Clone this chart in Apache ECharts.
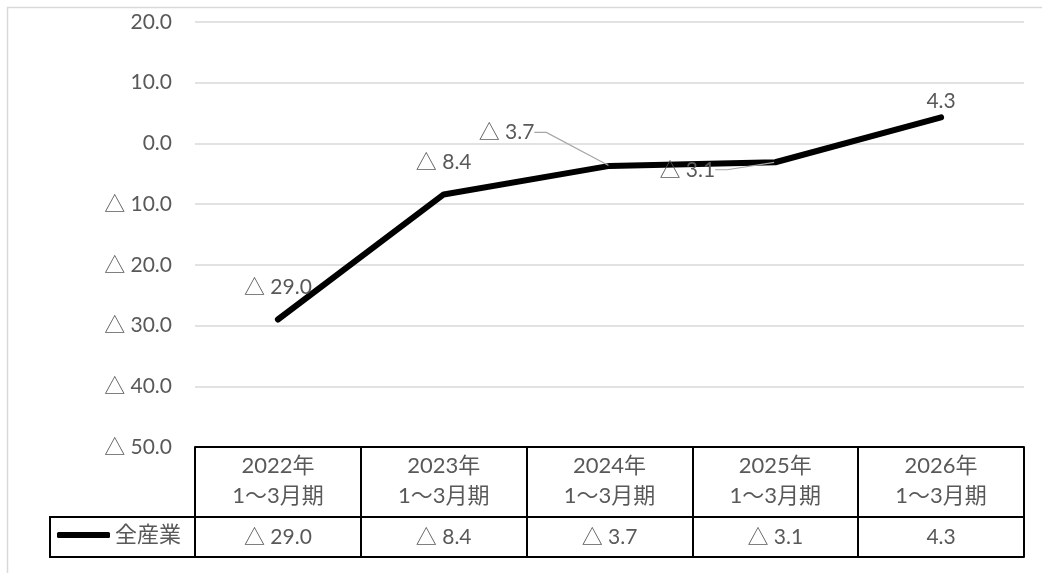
<!DOCTYPE html>
<html>
<head>
<meta charset="utf-8">
<script src="https://cdn.jsdelivr.net/npm/echarts@6/dist/echarts.min.js"></script>
<style>
html,body{margin:0;padding:0;background:#fff;}
#chart{width:1042px;height:573px;}
</style>
</head>
<body>
<div id="chart"></div>
<script>
// ---- data ----
const categories = ['2022年\n1〜3月期', '2023年\n1〜3月期', '2024年\n1〜3月期', '2025年\n1〜3月期', '2026年\n1〜3月期'];
const seriesName = '全産業';
const values = [-29.0, -8.4, -3.7, -3.1, 4.3];
const yTicks = { min: -50, max: 20, interval: 10 };

function fmt(v) {
  return v < 0 ? '△ ' + Math.abs(v).toFixed(1) : v.toFixed(1);
}

const FONT = "Lato, 'Noto Sans CJK JP', sans-serif";
const TXT = '#595959';

// label nudges (dx, dy) and leader line flags per point
const labelShift = [[0, -16], [0, -16], [-103, -17], [-88, 24], [0, 0]];
const leader = [false, false, true, true, false];

const chart = echarts.init(document.getElementById('chart'), null, { renderer: 'canvas' });
chart.setOption({
  animation: false,
  backgroundColor: '#fff',
  textStyle: { fontFamily: FONT },
  grid: { left: 195, right: 18, top: 22, bottom: 126 },
  legend: {
    data: [seriesName],
    left: 57,
    top: 524,
    padding: 0,
    icon: 'roundRect',
    itemWidth: 53,
    itemHeight: 6,
    itemStyle: { color: '#000' },
    textStyle: { fontSize: 22, color: TXT, fontFamily: FONT }
  },
  graphic: [
    { type: 'rect', silent: true, z: -10,
      shape: { x: 7.5, y: 7.5, width: 1200, height: 800 },
      style: { fill: null, stroke: '#d9d9d9', lineWidth: 1.5 } },
    { type: 'rect', silent: true,
      shape: { x: 50, y: 517, width: 145, height: 40 },
      style: { fill: null, stroke: '#000', lineWidth: 2 } }
  ],
  xAxis: [
    {
      type: 'category',
      data: categories,
      position: 'bottom',
      boundaryGap: true,
      axisLine: { show: true, onZero: false, lineStyle: { color: '#000', width: 2 } },
      axisTick: { show: true, interval: 0, length: 110, lineStyle: { color: '#000', width: 2 } },
      axisLabel: { color: TXT, fontSize: 22, lineHeight: 30, margin: 4, interval: 0, fontFamily: FONT },
      splitLine: { show: false }
    },
    {
      type: 'category',
      data: values.map(fmt),
      position: 'bottom',
      offset: 70,
      boundaryGap: true,
      axisLine: { show: true, onZero: false, lineStyle: { color: '#000', width: 2 } },
      axisTick: { show: false },
      axisLabel: { color: TXT, fontSize: 21, lineHeight: 24, margin: 8, interval: 0, fontFamily: FONT }
    },
    {
      type: 'category',
      data: categories,
      position: 'bottom',
      offset: 110,
      boundaryGap: true,
      axisLine: { show: true, onZero: false, lineStyle: { color: '#000', width: 2 } },
      axisTick: { show: false },
      axisLabel: { show: false }
    }
  ],
  yAxis: {
    type: 'value',
    min: yTicks.min,
    max: yTicks.max,
    interval: yTicks.interval,
    axisLine: { show: false },
    axisTick: { show: false },
    axisLabel: { color: TXT, fontSize: 21, margin: 23, formatter: fmt, fontFamily: FONT },
    splitLine: { show: true, lineStyle: { color: '#d9d9d9', width: 1.5 } }
  },
  series: [{
    name: seriesName,
    type: 'line',
    xAxisIndex: 0,
    data: values.map((v, i) => ({ value: v, labelLine: { show: leader[i] } })),
    symbol: 'circle',
    symbolSize: 2,
    showSymbol: true,
    lineStyle: { color: '#000', width: 6, cap: 'round', join: 'round' },
    itemStyle: { color: '#000' },
    label: {
      show: true,
      position: 'top',
      distance: 5,
      color: TXT,
      fontSize: 21,
      fontFamily: FONT,
      padding: [0, 8, 0, 0],
      formatter: p => fmt(p.value)
    },
    labelLine: { show: false, length2: 12, lineStyle: { color: '#a6a6a6', width: 1.2 } },
    labelLayout: p => ({ dx: labelShift[p.dataIndex][0] + 4, dy: labelShift[p.dataIndex][1] })
  }]
});
</script>
</body>
</html>
